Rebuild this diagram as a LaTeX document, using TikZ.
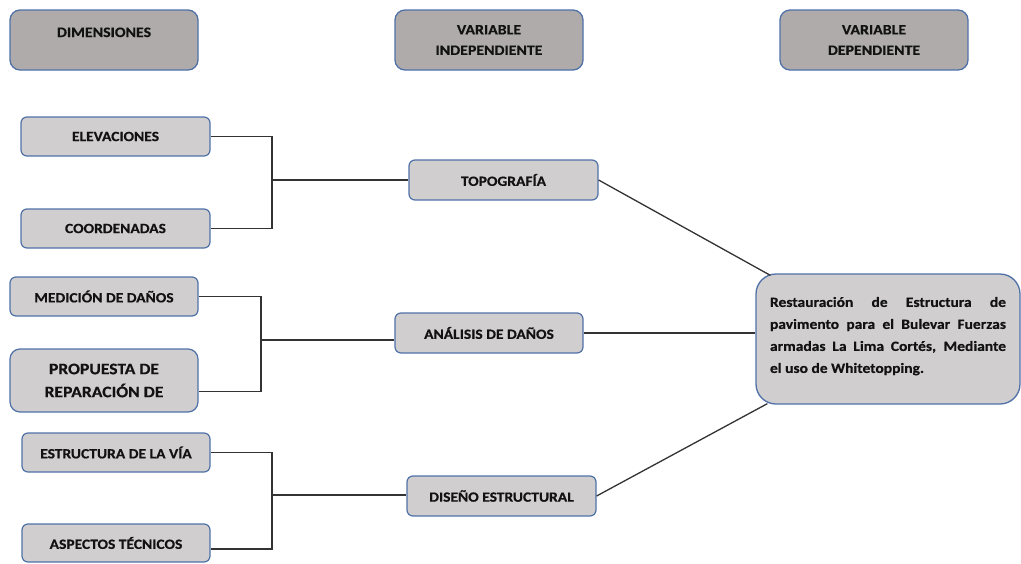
\documentclass[tikz,border=0pt]{standalone}
\usepackage{fontspec}
\setmainfont{Carlito}[FakeStretch=1.1, BoldFeatures={FakeBold=0.5}]
\usetikzlibrary{calc}
\definecolor{hdrfill}{HTML}{AFABAB}
\definecolor{boxfill}{HTML}{D0CECE}
\definecolor{boxedge}{HTML}{4F71A8}
\definecolor{txt}{HTML}{121212}
\definecolor{wire}{HTML}{333333}
\tikzset{
  hdr/.style={draw=boxedge, fill=hdrfill, line width=1.3pt, rounded corners=10pt,
    minimum width=188pt, minimum height=60pt, align=center, text=txt,
    font=\fontsize{14.4}{20.5}\selectfont\bfseries, inner sep=0pt},
  item/.style={draw=boxedge, fill=boxfill, line width=1.2pt, rounded corners=6pt,
    minimum width=189pt, minimum height=39pt, align=center, text=txt,
    font=\fontsize{14.1}{15}\selectfont\bfseries, inner sep=0pt},
  wirestyle/.style={draw=wire, line width=1.3pt},
}
\begin{document}
\begin{tikzpicture}[x=1pt,y=-1pt]
\useasboundingbox (0,0) rectangle (1021,563);
% headers
\node[hdr, text height=9pt, text depth=15pt] (dim) at (104,40) {DIMENSIONES};
\node[hdr] (vi) at (489,40) {VARIABLE\\INDEPENDIENTE};
\node[hdr] (vd) at (874,40) {VARIABLE\\DEPENDIENTE};
% dimension items
\node[item] (elev) at (115.5,136.5) {ELEVACIONES};
\node[item] (coord) at (115.5,228.5) {COORDENADAS};
\node[item, minimum width=188pt] (med) at (104,296.5) {MEDICIÓN DE DAÑOS};
\node[item, minimum width=188pt, minimum height=63pt, rounded corners=10pt,
  font=\fontsize{16}{23}\selectfont\bfseries] (prop) at (104,380.5) {PROPUESTA DE\\REPARACIÓN DE};
\node[item, minimum width=188pt] (estr) at (116,452.5) {ESTRUCTURA DE LA VÍA};
\node[item, minimum width=188pt, minimum height=38pt] (aspe) at (116,543) {ASPECTOS TÉCNICOS};
% independent variables
\node[item, minimum height=40pt] (topo) at (503.5,180) {TOPOGRAFÍA};
\node[item, minimum width=188pt, minimum height=40pt] (anal) at (489,333) {ANÁLISIS DE DAÑOS};
\node[item, minimum height=40pt] (dise) at (501.5,496) {DISEÑO ESTRUCTURAL};
% dependent variable
\node[draw=boxedge, fill=boxfill, line width=1.3pt, rounded corners=20pt,
  minimum width=264pt, minimum height=130pt, inner sep=0pt, text=txt] (big) at (888,339)
  {\parbox[c][84pt][t]{236pt}{\fontsize{14.1}{22}\selectfont\bfseries
   Restauración de Estructura de\linebreak
   pavimento para el Bulevar Fuerzas\linebreak
   armadas La Lima Cortés, Mediante\linebreak
   el uso de Whitetopping.}};
% junctions
\coordinate (j1) at (272,180);
\coordinate (j2) at (261,340);
\coordinate (j3) at (272,495);
\coordinate (bt) at ($(big.north west)+(15,2)$);
\coordinate (bb) at ($(big.south west)+(12,-1)$);
\draw[wirestyle] (elev.east) -| (j1) |- (coord.east);
\draw[wirestyle] (j1) -- (j1 -| topo.west);
\draw[wirestyle] (med.east) -| (j2) |- ($(prop.east)+(0,11)$);
\draw[wirestyle] (j2) -- (j2 -| anal.west);
\draw[wirestyle] (estr.east) -| (j3) |- ($(aspe.east)+(0,6)$);
\draw[wirestyle] (j3) -- (j3 -| dise.west);
\draw[wirestyle] (topo.east) -- (bt);
\draw[wirestyle] (anal.east) -- (anal.east -| big.west);
\draw[wirestyle] (dise.east) -- (bb);
\end{tikzpicture}
\end{document}
